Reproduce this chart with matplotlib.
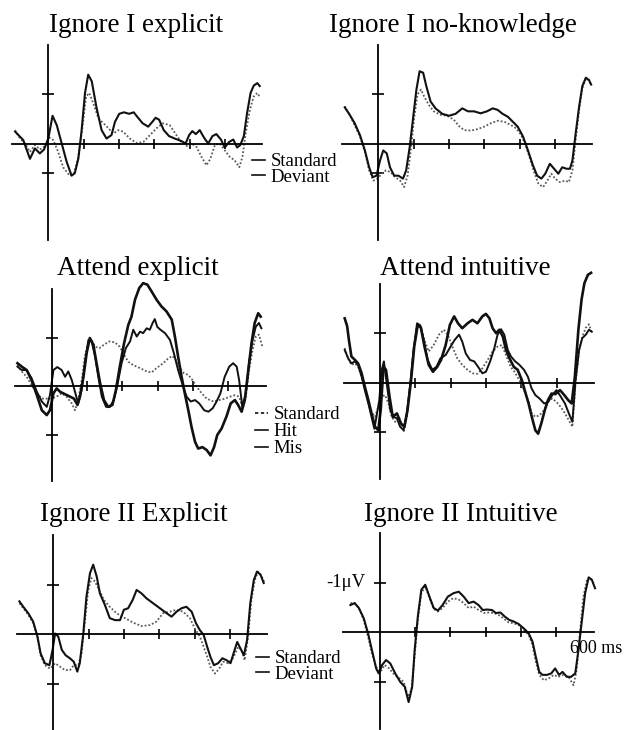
import numpy as np
import matplotlib
matplotlib.use('Agg')
import matplotlib.pyplot as plt
from matplotlib.lines import Line2D

plt.rcParams['font.family'] = ['Liberation Serif', 'DejaVu Serif']

# ---- data: (time ms, amplitude uV, negative up) ----
p1_std = np.array([(-94,-0.27),(-80,-0.10),(-66,0),(-52,0.17),(-38,0.03),(-24,0.12),(-9,0.05),(3,-0.12),(14,-0.07),(28,0.17),(42,0.48),(61,0.65),(73,0.60),(85,0.27),(97,-0.34),(107,-0.95),(116,-1.02),(127,-0.82),(142,-0.51),(156,-0.41),(170,-0.31),(184,-0.20),(198,-0.27),(212,-0.24),(231,-0.10),(250,-0.01),(269,-0.03),(288,-0.17),(307,-0.31),(325,-0.41),(344,-0.37),(363,-0.17),(377,-0.03),(392,0.05),(406,0),(420,0.07),(434,0.27),(448,0.44),(459,0.31),(472,0.03),(486,0),(500,0.14),(514,0.27),(528,0.34),(541,0.48),(550,0.27),(559,-0.20),(571,-0.68),(582,-0.95),(592,-1.02),(599,-0.94)])
p1_dev = np.array([(-94,-0.24),(-71,-0.07),(-52,0.31),(-38,0.10),(-24,0.20),(-12,0.12),(0,-0.10),(12,-0.56),(24,-0.37),(38,0),(52,0.37),(66,0.65),(75,0.60),(85,0.31),(94,-0.24),(104,-1.02),(113,-1.39),(123,-1.26),(137,-0.71),(151,-0.27),(165,-0.10),(179,-0.17),(189,-0.44),(201,-0.60),(214,-0.63),(229,-0.60),(242,-0.63),(252,-0.54),(267,-0.41),(283,-0.34),(295,-0.44),(304,-0.52),(314,-0.48),(327,-0.27),(342,-0.15),(358,-0.10),(377,-0.05),(389,0),(399,-0.17),(408,-0.25),(418,-0.19),(429,-0.27),(441,-0.12),(453,0),(465,-0.15),(476,-0.19),(489,-0.08),(500,0.08),(512,-0.03),(524,-0.08),(535,0.08),(544,0.03),(554,-0.15),(563,-0.61),(573,-1.02),(582,-1.17),(592,-1.22),(599,-1.16)])

p2_std = np.array([(-95,-0.75),(-81,-0.58),(-67,-0.37),(-52,-0.14),(-38,0.17),(-26,0.54),(-14,0.75),(-3,0.71),(10,0.61),(22,0.54),(35,0.58),(48,0.68),(62,0.75),(73,0.88),(83,0.65),(92,0.14),(102,-0.54),(111,-0.99),(121,-1.09),(130,-0.95),(143,-0.78),(157,-0.65),(176,-0.58),(195,-0.56),(214,-0.48),(229,-0.35),(243,-0.27),(262,-0.26),(281,-0.29),(300,-0.34),(319,-0.41),(338,-0.46),(357,-0.44),(376,-0.37),(390,-0.31),(405,-0.17),(419,0.07),(431,0.34),(443,0.61),(454,0.82),(467,0.88),(479,0.75),(490,0.61),(501,0.71),(514,0.78),(529,0.75),(540,0.78),(550,0.54),(559,-0.07),(569,-0.68),(578,-1.12),(588,-1.31),(597,-1.28),(603,-1.17)])
p2_dev = np.array([(-95,-0.73),(-81,-0.58),(-67,-0.41),(-52,-0.17),(-38,0.14),(-26,0.48),(-16,0.68),(-5,0.65),(5,0.34),(14,0.14),(24,0.20),(33,0.48),(45,0.65),(57,0.65),(70,0.71),(79,0.54),(89,0.07),(98,-0.48),(108,-1.09),(117,-1.46),(127,-1.43),(136,-1.16),(148,-0.85),(162,-0.71),(181,-0.60),(200,-0.56),(219,-0.60),(238,-0.71),(254,-0.65),(271,-0.65),(290,-0.61),(308,-0.65),(324,-0.71),(338,-0.68),(352,-0.60),(367,-0.54),(381,-0.44),(395,-0.34),(410,-0.14),(424,0.14),(438,0.44),(450,0.65),(462,0.71),(473,0.61),(486,0.41),(498,0.51),(510,0.61),(521,0.48),(533,0.51),(543,0.51),(550,0.34),(559,-0.20),(569,-0.75),(578,-1.16),(588,-1.33),(597,-1.28),(603,-1.19)])

p3_std = np.array([(-97,-0.43),(-85,-0.30),(-71,-0.19),(-57,-0.02),(-42,0.15),(-28,0.26),(-14,0.26),(0,0.26),(14,0.22),(28,0.15),(42,0.22),(57,0.36),(66,0.50),(75,0.29),(85,-0.12),(94,-0.61),(104,-0.92),(113,-0.95),(123,-0.81),(135,-0.78),(148,-0.85),(163,-0.92),(179,-0.90),(193,-0.81),(205,-0.64),(217,-0.50),(231,-0.43),(250,-0.37),(269,-0.30),(283,-0.28),(297,-0.37),(316,-0.47),(330,-0.57),(342,-0.62),(354,-0.52),(363,-0.37),(375,-0.26),(387,-0.23),(399,-0.12),(410,0.01),(425,0.15),(439,0.26),(458,0.32),(475,0.29),(491,0.26),(505,0.22),(519,0.19),(531,0.22),(540,0.43),(550,0.22),(559,-0.33),(569,-0.74),(578,-1.02),(587,-1.06),(597,-0.81)])
p3_hit = np.array([(-97,-0.47),(-85,-0.40),(-71,-0.33),(-57,-0.12),(-42,0.19),(-28,0.50),(-14,0.60),(-5,0.50),(5,0.15),(14,0.05),(24,0.12),(38,0.17),(52,0.22),(63,0.26),(73,0.39),(80,0.22),(90,-0.19),(99,-0.68),(108,-0.99),(118,-0.85),(127,-0.47),(137,-0.06),(148,0.29),(160,0.43),(172,0.39),(182,0.08),(193,-0.40),(205,-0.88),(217,-1.26),(226,-1.43),(236,-1.78),(248,-2.02),(259,-2.12),(271,-2.09),(283,-1.95),(297,-1.78),(311,-1.64),(325,-1.54),(340,-1.37),(349,-1.02),(358,-0.61),(368,-0.19),(377,0.15),(387,0.50),(396,0.84),(406,1.15),(415,1.29),(427,1.26),(439,1.32),(450,1.43),(460,1.26),(469,1.01),(481,0.88),(495,0.63),(507,0.36),(519,0.29),(528,0.39),(538,0.53),(547,0.29),(557,-0.33),(566,-0.88),(575,-1.30),(585,-1.50),(592,-1.43)])
p3_mis = np.array([(-97,-0.40),(-85,-0.33),(-71,-0.33),(-57,-0.16),(-42,0.12),(-28,0.32),(-14,0.43),(-5,0.19),(5,-0.33),(16,-0.39),(28,-0.33),(38,-0.19),(47,-0.30),(57,-0.12),(66,0.12),(75,0.36),(85,0.08),(94,-0.47),(104,-0.95),(113,-0.92),(123,-0.61),(132,-0.19),(142,0.22),(154,0.43),(165,0.43),(176,0.29),(186,-0.02),(198,-0.47),(210,-0.78),(222,-0.92),(231,-1.16),(241,-1.02),(250,-1.12),(259,-1.09),(269,-1.19),(278,-1.16),(286,-1.30),(292,-1.38),(299,-1.22),(308,-1.16),(321,-1.09),(335,-0.95),(346,-0.68),(358,-0.33),(371,-0.02),(382,0.22),(394,0.32),(406,0.29),(418,0.36),(432,0.50),(444,0.53),(456,0.46),(467,0.32),(478,0.15),(490,-0.19),(503,-0.40),(514,-0.47),(524,-0.40),(531,-0.12),(540,0.43),(550,0.15),(559,-0.47),(569,-0.95),(578,-1.22),(587,-1.30),(594,-1.19)])

p4_std = np.array([(-100,-0.70),(-90,-0.49),(-81,-0.36),(-71,-0.39),(-62,-0.32),(-52,-0.12),(-43,0.11),(-33,0.39),(-24,0.59),(-14,0.69),(-5,0.49),(5,0.28),(14,0.25),(24,0.42),(33,0.69),(43,0.79),(54,0.69),(67,0.99),(76,0.69),(86,0.01),(95,-0.66),(105,-1.14),(114,-1.14),(126,-0.86),(138,-0.63),(152,-0.76),(167,-0.97),(181,-1.07),(192,-0.97),(205,-0.73),(219,-0.49),(233,-0.36),(248,-0.26),(262,-0.19),(276,-0.18),(290,-0.29),(305,-0.46),(319,-0.63),(333,-0.73),(345,-0.76),(357,-0.56),(370,-0.32),(381,-0.22),(395,-0.05),(408,0.15),(419,0.35),(430,0.62),(440,0.69),(452,0.66),(465,0.55),(476,0.39),(488,0.32),(500,0.39),(512,0.49),(524,0.62),(535,0.76),(545,0.89),(554,0.01),(564,-0.66),(573,-0.93),(583,-1.11),(592,-1.18),(600,-1.00)])
p4_hit = np.array([(-100,-1.30),(-93,-1.14),(-88,-0.86),(-81,-0.53),(-71,-0.46),(-62,-0.39),(-52,-0.19),(-43,0.08),(-33,0.35),(-24,0.62),(-14,0.89),(-5,0.96),(2,0.55),(10,-0.32),(17,-0.26),(27,0.28),(36,0.69),(48,0.62),(59,0.82),(69,0.89),(78,0.55),(88,-0.05),(97,-0.73),(107,-1.17),(116,-1.11),(126,-0.73),(138,-0.36),(150,-0.22),(162,-0.32),(173,-0.46),(186,-0.76),(198,-1.17),(210,-1.34),(221,-1.20),(233,-1.10),(248,-1.20),(262,-1.27),(276,-1.20),(290,-1.34),(300,-1.39),(310,-1.30),(319,-1.10),(329,-1.00),(338,-1.07),(348,-0.93),(357,-0.66),(367,-0.49),(379,-0.32),(390,-0.26),(402,-0.05),(411,0.18),(421,0.42),(430,0.69),(440,0.96),(448,1.03),(457,0.82),(467,0.55),(476,0.35),(486,0.22),(497,0.23),(510,0.15),(522,0.25),(533,0.35),(543,0.42),(552,-0.12),(562,-1.07),(571,-1.68),(579,-2.01),(589,-2.18),(598,-2.22)])
p4_mis = np.array([(-100,-0.66),(-90,-0.49),(-81,-0.39),(-71,-0.43),(-62,-0.36),(-52,-0.12),(-43,0.15),(-33,0.42),(-24,0.69),(-16,0.93),(-10,0.69),(-2,0.35),(5,-0.26),(11,-0.43),(19,0.01),(29,0.55),(38,0.69),(48,0.72),(57,0.89),(67,0.96),(76,0.62),(86,0.01),(95,-0.66),(105,-1.20),(114,-1.16),(124,-0.86),(135,-0.46),(148,-0.26),(160,-0.32),(171,-0.49),(186,-0.56),(200,-0.73),(211,-0.86),(224,-0.97),(233,-0.83),(243,-0.59),(255,-0.46),(267,-0.43),(278,-0.32),(290,-0.19),(300,-0.22),(312,-0.43),(324,-0.70),(333,-0.97),(343,-1.08),(352,-0.97),(362,-0.66),(371,-0.53),(383,-0.43),(395,-0.36),(408,-0.26),(419,-0.12),(429,0.11),(440,0.25),(452,0.32),(465,0.42),(476,0.39),(488,0.25),(500,0.15),(512,0.28),(524,0.42),(535,0.62),(545,0.79),(554,-0.05),(564,-0.66),(573,-0.90),(583,-0.97),(592,-1.07),(600,-1.03)])

p5_std = np.array([(-96,-0.62),(-85,-0.52),(-71,-0.39),(-57,-0.22),(-45,0.05),(-36,0.43),(-24,0.63),(-9,0.70),(5,0.59),(19,0.66),(33,0.73),(47,0.73),(58,0.63),(71,0.63),(80,0.39),(90,-0.28),(99,-0.89),(108,-1.13),(118,-1.06),(130,-0.89),(143,-0.69),(160,-0.55),(179,-0.42),(203,-0.32),(226,-0.23),(250,-0.16),(274,-0.18),(292,-0.25),(311,-0.42),(330,-0.45),(349,-0.49),(368,-0.45),(387,-0.32),(401,-0.11),(415,0.05),(426,0.26),(436,0.46),(445,0.66),(458,0.80),(470,0.70),(481,0.56),(495,0.59),(509,0.49),(524,0.26),(533,0.32),(542,0.53),(552,0.05),(561,-0.69),(571,-1.09),(580,-1.26),(590,-1.16),(599,-1.03)])
p5_dev = np.array([(-96,-0.66),(-85,-0.55),(-71,-0.42),(-57,-0.25),(-45,0.05),(-36,0.39),(-24,0.59),(-11,0.63),(-2,0.32),(5,-0.01),(14,0.05),(24,0.32),(35,0.43),(47,0.49),(58,0.56),(68,0.76),(75,0.59),(85,-0.01),(94,-0.76),(104,-1.23),(113,-1.40),(123,-1.16),(132,-0.82),(146,-0.59),(160,-0.32),(175,-0.28),(189,-0.28),(200,-0.49),(212,-0.52),(225,-0.69),(236,-0.89),(250,-0.82),(264,-0.72),(283,-0.62),(302,-0.52),(321,-0.42),(335,-0.35),(349,-0.45),(363,-0.52),(377,-0.55),(392,-0.45),(404,-0.22),(415,-0.08),(426,0.02),(436,0.26),(445,0.46),(455,0.63),(467,0.59),(479,0.49),(491,0.53),(502,0.59),(512,0.36),(521,0.16),(530,0.29),(540,0.43),(549,0.12),(558,-0.62),(568,-1.09),(577,-1.26),(587,-1.20),(596,-1.03)])

p6_std = np.array([(-83,-0.59),(-71,-0.59),(-59,-0.49),(-45,-0.24),(-33,0.09),(-22,0.43),(-10,0.70),(2,0.80),(14,0.66),(27,0.73),(42,0.86),(56,0.93),(68,1.00),(80,1.30),(90,1.16),(99,0.49),(108,-0.25),(118,-0.79),(129,-0.93),(141,-0.69),(153,-0.47),(165,-0.42),(178,-0.49),(193,-0.62),(209,-0.69),(224,-0.66),(238,-0.59),(252,-0.49),(266,-0.52),(280,-0.45),(295,-0.39),(309,-0.40),(323,-0.39),(337,-0.35),(351,-0.28),(365,-0.20),(379,-0.18),(393,-0.15),(408,-0.05),(422,0.05),(433,0.26),(442,0.59),(452,0.86),(465,0.97),(479,0.93),(493,0.86),(506,0.90),(521,0.86),(535,0.90),(549,1.07),(558,0.76),(568,-0.05),(577,-0.72),(587,-1.06),(596,-1.11),(606,-0.99)])
p6_dev = np.array([(-83,-0.55),(-71,-0.59),(-59,-0.49),(-45,-0.28),(-33,0.02),(-22,0.36),(-10,0.73),(-3,0.83),(7,0.66),(18,0.56),(30,0.63),(44,0.83),(58,1.00),(71,1.10),(82,1.41),(92,1.10),(99,0.36),(108,-0.32),(118,-0.86),(129,-0.96),(141,-0.72),(153,-0.49),(165,-0.44),(178,-0.55),(193,-0.72),(209,-0.79),(224,-0.82),(238,-0.72),(252,-0.59),(266,-0.62),(280,-0.55),(292,-0.45),(304,-0.46),(318,-0.45),(329,-0.39),(342,-0.40),(354,-0.32),(367,-0.25),(379,-0.22),(393,-0.17),(408,-0.08),(422,0.02),(433,0.19),(442,0.49),(452,0.80),(461,0.86),(474,0.86),(486,0.83),(497,0.73),(508,0.86),(518,0.80),(530,0.90),(542,0.90),(554,0.83),(563,0.36),(573,-0.25),(582,-0.79),(592,-1.11),(601,-1.06),(610,-0.89)])

titles = ['Ignore I explicit', 'Ignore I no-knowledge', 'Attend explicit',
          'Attend intuitive', 'Ignore II Explicit', 'Ignore II Intuitive']
x_ticks = [100, 200, 300, 400, 500]

W, H = 624, 730
fig = plt.figure(figsize=(W / 100, H / 100), dpi=100)

MS_PX = 0.353
XLIM = (-110, 620)
YTOP, YBOT = -2.35, 2.0
STD_KW = dict(color='#5a5a5a', lw=1.3, ls=(0, (1, 1.1)))
SOL_KW = dict(color='#111111', lw=1.5)


def add_panel(x0, y0, sy, yticks):
    # x0, y0 = pixel position of the origin, sy = pixels per uV
    left = (x0 + XLIM[0] * MS_PX) / W
    width = (XLIM[1] - XLIM[0]) * MS_PX / W
    top_px = y0 + YTOP * sy
    height = (YBOT - YTOP) * sy / H
    bottom = 1 - top_px / H - height
    ax = fig.add_axes([left, bottom, width, height])
    ax.set_xlim(*XLIM)
    ax.set_ylim(YBOT, YTOP)
    ax.patch.set_visible(False)
    for s in ['top', 'right']:
        ax.spines[s].set_visible(False)
    ax.spines['left'].set_position(('data', 0))
    ax.spines['bottom'].set_position(('data', 0))
    ax.spines['left'].set_bounds(-2.0, 1.95)
    ax.spines['bottom'].set_bounds(-103, 606)
    for s in ['left', 'bottom']:
        ax.spines[s].set_linewidth(1.3)
    ax.set_xticks(x_ticks)
    ax.set_yticks(yticks)
    ax.tick_params(axis='y', direction='inout', length=9, width=1.2,
                   labelleft=False)
    ax.tick_params(axis='x', direction='inout', length=7, width=1.2,
                   labelbottom=False)
    return ax


ax1 = add_panel(48.3, 143.5, 49.5, [-1, 0.6])
ax2 = add_panel(378.3, 143.5, 49.5, [-1, 0.6])
ax3 = add_panel(51.7, 386, 48.5, [-1, 1])
ax4 = add_panel(380, 382.7, 49.5, [-1, 1])
ax5 = add_panel(53.3, 634, 49.5, [-1, 1])
ax6 = add_panel(379.7, 632.3, 49.5, [-1, 1])

for ax, std, dev in [(ax1, p1_std, p1_dev), (ax2, p2_std, p2_dev),
                     (ax5, p5_std, p5_dev), (ax6, p6_std, p6_dev)]:
    ax.plot(std[:, 0], std[:, 1], **STD_KW)
    ax.plot(dev[:, 0], dev[:, 1], **SOL_KW)

for ax, std, hit, mis in [(ax3, p3_std, p3_hit, p3_mis),
                          (ax4, p4_std, p4_hit, p4_mis)]:
    ax.plot(std[:, 0], std[:, 1], **STD_KW)
    ax.plot(mis[:, 0], mis[:, 1], color='#111111', lw=1.4)
    ax.plot(hit[:, 0], hit[:, 1], color='#111111', lw=1.9, clip_on=False)

# titles
title_pos = [(136.5, 31.7), (453, 31.7), (137.5, 275),
             (465.5, 275), (134, 520.7), (461, 520.7)]
for t, (px, py) in zip(titles, title_pos):
    fig.text(px / W, 1 - py / H, t, ha='center', va='baseline', fontsize=19.5)

# legends
def key(ls='-'):
    return Line2D([], [], color='#111111', lw=1.2, ls=ls)

leg_kw = dict(loc='upper left', frameon=False, fontsize=13.5, handlelength=0.7,
              handletextpad=0.3, labelspacing=-0.08, borderpad=0,
              borderaxespad=0)
fig.legend([key(), key()], ['Standard', 'Deviant'],
           bbox_to_anchor=(252 / W, 1 - 153 / H), **leg_kw)
fig.legend([key((0, (2, 1.5))), key(), key()], ['Standard', 'Hit', 'Mis'],
           bbox_to_anchor=(255 / W, 1 - 406 / H), **dict(leg_kw, labelspacing=0.0))
fig.legend([key(), key()], ['Standard', 'Deviant'],
           bbox_to_anchor=(256 / W, 1 - 650 / H), **leg_kw)

ax6.text(-40, -1, '-1\u03bcV', ha='right', va='center', fontsize=13.5)
ax6.text(538, 0.42, '600 ms', ha='left', va='baseline', fontsize=13)

fig.savefig('out.png', dpi=100)
